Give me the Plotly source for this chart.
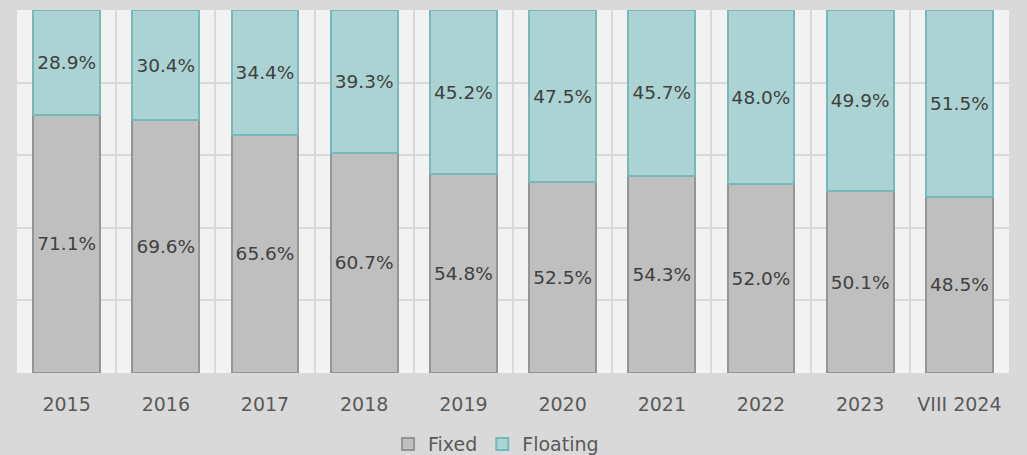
import plotly.graph_objects as go

years = ["2015", "2016", "2017", "2018", "2019", "2020", "2021", "2022", "2023", "VIII 2024"]
fixed = [71.1, 69.6, 65.6, 60.7, 54.8, 52.5, 54.3, 52.0, 50.1, 48.5]
floating = [28.9, 30.4, 34.4, 39.3, 45.2, 47.5, 45.7, 48.0, 49.9, 51.5]

font_family = "DejaVu Sans"
text_color = "#404040"

fig = go.Figure()
fig.add_trace(go.Bar(
    name="Fixed", x=years, y=fixed,
    marker=dict(color="#bfbfbf", line=dict(color="#959595", width=2)),
    texttemplate="%{y:.1f}%", textposition="inside", insidetextanchor="middle",
    textfont=dict(color=text_color, size=18.5, family=font_family),
    constraintext="none",
))
fig.add_trace(go.Bar(
    name="Floating", x=years, y=floating,
    marker=dict(color="#acd3d3", line=dict(color="#79b8b9", width=2)),
    texttemplate="%{y:.1f}%", textposition="inside", insidetextanchor="middle",
    textfont=dict(color=text_color, size=18.5, family=font_family),
    constraintext="none",
))

fig.update_layout(
    barmode="stack",
    bargap=0.325,
    width=1027, height=455,
    margin=dict(l=17, r=18, t=10, b=82, autoexpand=False),
    paper_bgcolor="#d9d9d9",
    plot_bgcolor="#f2f2f2",
    font=dict(family=font_family, color=text_color, size=18),
    showlegend=True,
    legend=dict(orientation="h", x=0.483, xanchor="center", xref="container",
                y=0.024, yanchor="middle", yref="container",
                font=dict(size=19, color="#595959"), bgcolor="rgba(0,0,0,0)",
                traceorder="normal"),
    xaxis=dict(type="category", tickson="boundaries", showgrid=True,
               gridcolor="#d9d9d9", gridwidth=2, ticks="", showline=False,
               tickfont=dict(size=19, color="#595959"), ticklabelstandoff=18),
    yaxis=dict(range=[0, 100], dtick=20, showgrid=True, gridcolor="#d9d9d9",
               gridwidth=2, showticklabels=False, zeroline=False, ticks=""),
)

fig.write_html("out.html", config={"displayModeBar": False},
               post_script="document.body.style.margin='0';")
